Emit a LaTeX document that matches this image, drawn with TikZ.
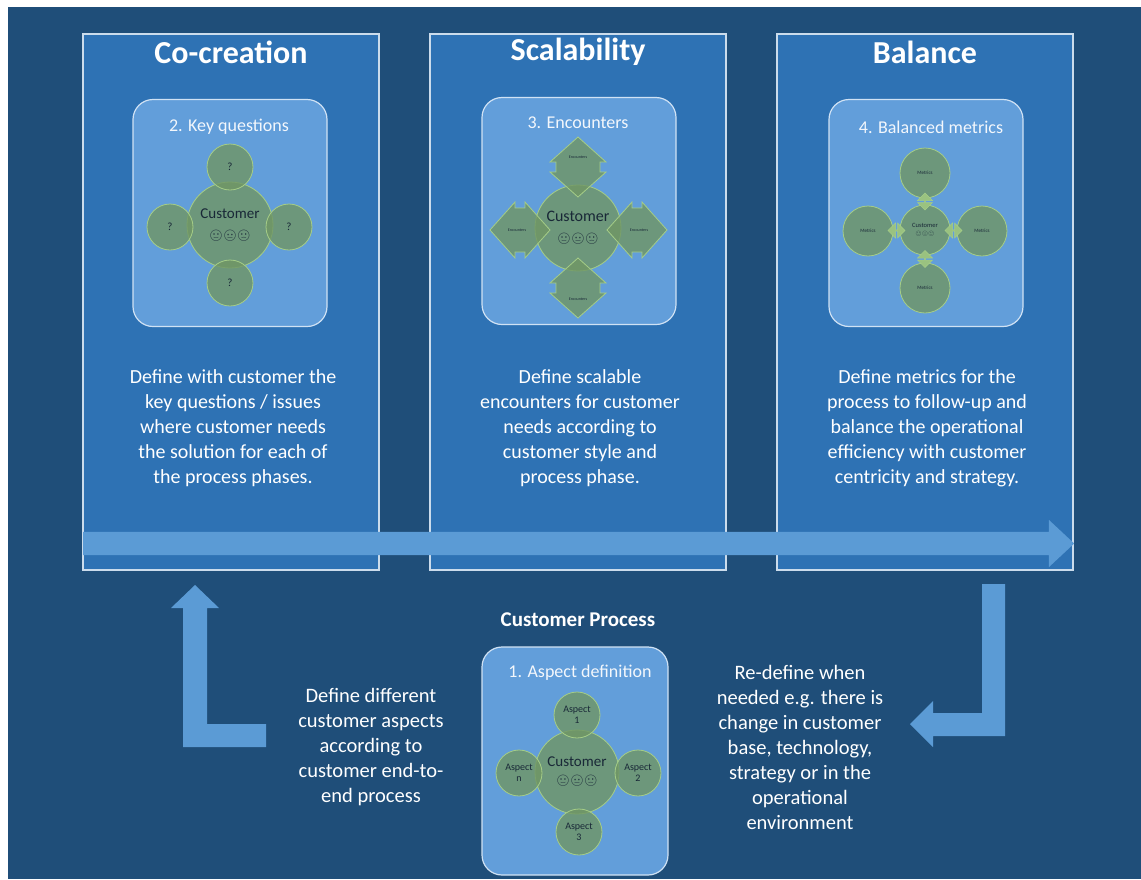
\documentclass[tikz,border=0pt]{standalone}
\usepackage{fontspec}
\setmainfont{Carlito}
\newfontfamily\emojifont{Noto Emoji}
\usetikzlibrary{positioning, calc, shapes.arrows}

\definecolor{bgblue}{RGB}{31,78,121}
\definecolor{panelblue}{RGB}{46,114,180}
\definecolor{boxblue}{RGB}{98,158,218}
\definecolor{flowblue}{RGB}{91,155,213}
\definecolor{circgreen}{RGB}{112,150,100}
\definecolor{circline}{RGB}{165,205,135}
\definecolor{inktext}{RGB}{25,40,55}

\newcommand{\faces}[1]{{\emojifont\fontsize{#1}{#1}\selectfont 🙂😐🙁}}

\tikzset{
  panel/.style={draw=white!75!panelblue, line width=1.5pt, fill=panelblue,
    minimum width=296pt, minimum height=536pt}, % the three tall columns
  heading/.style={text=white, font=\fontsize{32}{36}\selectfont\bfseries}, % column titles
  inbox/.style={rounded corners=20pt, fill=boxblue, draw=white!70!boxblue,
    line width=1.2pt, minimum width=194pt, minimum height=227pt}, % light inner boxes
  boxtitle/.style={text=white!92!boxblue, font=\fontsize{18}{20}\selectfont}, % numbered step
  blurb/.style={text=white, align=center, font=\fontsize{20.5}{25}\selectfont}, % explanations
  core/.style={circle, fill=circgreen, fill opacity=0.8, text opacity=1,
    draw=circline, line width=0.8pt, text=inktext, align=center, inner sep=0pt},
  leaf/.style={core, minimum size=46pt, font=\fontsize{11}{11}\selectfont},
  tag/.style={text=inktext, font=\fontsize{4}{5}\selectfont, inner sep=0pt}, % tiny labels
  link/.style={double arrow, double arrow head extend=2.5pt, double arrow tip angle=90,
    minimum height=17pt, minimum width=15pt, fill=circline!80!circgreen,
    draw=circline, line width=0.5pt, inner sep=0pt},
  flow/.style={fill=flowblue}, % the big process arrows
  encounter/.pic={
    \filldraw[fill=circgreen, fill opacity=0.8, draw=circline, line width=0.8pt]
      (0,-30) -- (28,-5) -- (22,-5) -- (22,5) -- (28,5) -- (0,30) -- (-28,5)
      -- (-22,5) -- (-22,-5) -- (-28,-5) -- cycle;
  },
}

\begin{document}
\begin{tikzpicture}[x=1pt, y=-1pt]
  \useasboundingbox (0,0) rectangle (1141,879);
  \fill[bgblue] (8,7) rectangle (1141,879);

  % columns
  \node[panel] (p1) at (231,302) {};
  \node[panel] (p2) at (578,302) {};
  \node[panel] (p3) at (925,302) {};

  \node[heading] (t1) at (231,52) {Co-creation};
  \node[heading] (t2) at (578,52) {Scalability};
  \node[heading] (t3) at (925,52) {Balance};

  \node[inbox] (b1) at (230,213) {};
  \node[inbox] (b2) at (579,211) {};
  \node[inbox] (b3) at (926,213) {};

  \node[boxtitle] (s2) at (229,127) {2. Key questions};
  \node[boxtitle] (s3) at (578,123) {3. Encounters};
  \node[boxtitle] (s4) at (931,127) {4. Balanced metrics};

  % 2. key questions
  \node[core, minimum size=86pt, font=\fontsize{15}{21}\selectfont] (c1) at (230,225) {Customer\\\faces{11}};
  \node[leaf] (k1) at (230,167) {?};
  \node[leaf] (k2) at (289,227) {?};
  \node[leaf] (k3) at (230,283) {?};
  \node[leaf] (k4) at (170,227) {?};

  % 3. encounters
  \node[core, minimum size=86pt, font=\fontsize{16}{21}\selectfont] (c2) at (578,228) {Customer\\\faces{11}};
  \pic at (578,167) {encounter};
  \pic[rotate=90] at (637,230) {encounter};
  \pic at (578,288) {encounter};
  \pic[rotate=90] at (520,230) {encounter};
  \node[tag] (e1) at (578,157) {Encounters};
  \node[tag] (e2) at (639,230) {Encounters};
  \node[tag] (e3) at (578,299) {Encounters};
  \node[tag] (e4) at (517,230) {Encounters};

  % 4. balanced metrics
  \node[core, minimum size=50pt, font=\fontsize{6.5}{8}\selectfont] (c3) at (925,230) {Customer\\\faces{5}};
  \node[core, minimum size=50pt, font=\fontsize{5}{6}\selectfont] (m1) at (925,173) {Metrics};
  \node[core, minimum size=50pt, font=\fontsize{5}{6}\selectfont] (m2) at (982,231) {Metrics};
  \node[core, minimum size=50pt, font=\fontsize{5}{6}\selectfont] (m3) at (925,288) {Metrics};
  \node[core, minimum size=50pt, font=\fontsize{5}{6}\selectfont] (m4) at (868,231) {Metrics};
  \node[link, shape border rotate=90] at ($(m1)!0.5!(c3)$) {};
  \node[link] at ($(m2)!0.5!(c3)$) {};
  \node[link, shape border rotate=90] at ($(m3)!0.5!(c3)$) {};
  \node[link] at ($(m4)!0.5!(c3)$) {};

  \node[blurb, font=\fontsize{20}{25}\selectfont] at (233,428) {Define with customer the\\key questions / issues\\where customer needs\\the solution for each of\\the process phases.};
  \node[blurb, font=\fontsize{20}{25}\selectfont] at (580,428) {Define scalable\\encounters for customer\\needs according to\\customer style and\\process phase.};
  \node[blurb, font=\fontsize{20}{25}\selectfont] at (927,428) {Define metrics for the\\process to follow-up and\\balance the operational\\efficiency with customer\\centricity and strategy.};

  % process arrow across the columns
  \node[flow, single arrow, single arrow head extend=12pt, single arrow tip angle=86,
    minimum height=991pt, inner xsep=0pt, inner ysep=11.5pt, anchor=tail] (arrow) at (83,543.5) {};

  % customer process
  \node[heading, font=\fontsize{21}{24}\selectfont\bfseries] (t0) at (578,620) {Customer Process};
  \node[inbox, minimum width=186pt, minimum height=228pt] (b0) at (575,761) {};
  \node[boxtitle] (s1) at (580,673) {1. Aspect definition};
  \node[core, minimum size=84pt, font=\fontsize{15}{18}\selectfont] (c0) at (577,772) {Customer\\\faces{11}};
  \node[leaf, font=\fontsize{10}{11}\selectfont] (a1) at (577,715) {Aspect\\1};
  \node[leaf, font=\fontsize{10}{11}\selectfont] (a2) at (638,773) {Aspect\\2};
  \node[leaf, font=\fontsize{10}{11}\selectfont] (a3) at (579,832) {Aspect\\3};
  \node[leaf, font=\fontsize{10}{11}\selectfont] (an) at (519,773) {Aspect\\n};

  \node[blurb] (left) at (371,747) {Define different\\customer aspects\\according to\\customer end-to-\\end process};
  \node[blurb] (right) at (800,747) {Re-define when\\needed e.g. there is\\change in customer\\base, technology,\\strategy or in the\\operational\\environment};

  % turn-around arrows
  \fill[flow] (195,585) -- (219,608) -- (207,608) -- (207,724) -- (266,724) -- (266,747)
    -- (183,747) -- (183,608) -- (171,608) -- cycle;
  \fill[flow] (982,584) -- (1005,584) -- (1005,736) -- (933,736) -- (933,747) -- (910,724)
    -- (933,701) -- (933,713) -- (982,713) -- cycle;
\end{tikzpicture}
\end{document}
